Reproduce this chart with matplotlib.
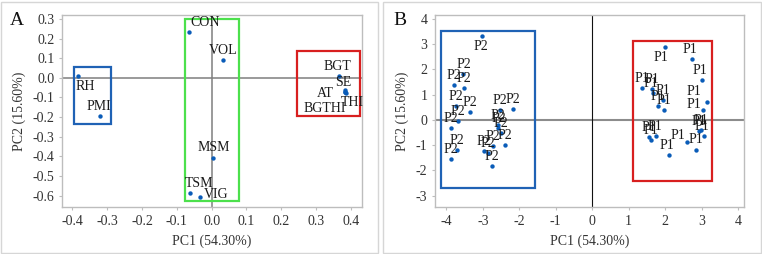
import matplotlib.pyplot as plt
from matplotlib.patches import Rectangle

plt.rcParams['font.family'] = 'serif'
plt.rcParams['font.serif'] = ['Liberation Serif', 'DejaVu Serif']
plt.rcParams['axes.unicode_minus'] = False

# Panel A: loadings
var_names = ['RH', 'PMI', 'CON', 'VOL', 'MSM', 'TSM', 'VIG',
             'BGT', 'SE', 'AT', 'THI', 'BGTHI']
var_pc1 = [-0.385, -0.321, -0.065, 0.033, 0.005, -0.062, -0.034,
           0.365, 0.384, 0.382, 0.386, 0.383]
var_pc2 = [0.010, -0.195, 0.231, 0.093, -0.407, -0.589, -0.606,
           0.010, -0.063, -0.070, -0.078, -0.074]

# Panel B: scores
p2_pc1 = [-3.01, -3.53, -3.79, -3.52, -3.74, -3.36, -3.67, -3.88, -3.70, -3.87,
          -2.53, -2.17, -2.58, -2.57, -2.49, -2.39, -2.73, -2.96, -2.87, -2.76]
p2_pc2 = [3.32, 1.82, 1.38, 1.25, 0.55, 0.32, -0.03, -0.33, -1.19, -1.55,
          0.37, 0.42, -0.21, -0.34, -0.53, -0.98, -1.05, -1.23, -1.32, -1.81]
p1_pc1 = [2.00, 2.73, 3.01, 1.36, 1.65, 1.66, 1.95, 1.80, 1.98, 3.16, 3.04,
          2.98, 2.93, 3.06, 2.86, 2.60, 2.11, 1.55, 1.60, 1.74]
p1_pc2 = [2.87, 2.40, 1.58, 1.25, 1.22, 1.08, 0.79, 0.53, 0.40, 0.71, 0.37,
          -0.40, -0.45, -0.65, -1.21, -0.86, -1.41, -0.68, -0.78, -0.65]

# label offsets (pixels) and alignment
var_off = [(-2, -4, 'left', 'top'), (-1, 3, 'center', 'bottom'),
           (1, 3, 'left', 'bottom'), (0, 3, 'center', 'bottom'),
           (0, 4, 'center', 'bottom'), (9, 3, 'center', 'bottom'),
           (4, 2, 'left', 'center'), (-1, 3, 'center', 'bottom'),
           (-2, 1, 'center', 'bottom'), (-11, -2, 'right', 'center'),
           (-5, -3, 'left', 'top'), (1, -10, 'right', 'top')]
p2_off = [(-1, -4, 'top')] + [(0, 3, 'bottom')] * 19
p1_off = [(-4, -4, 'top'), (-2, 3, 'bottom'), (-2, 3, 'bottom'), (0, 3, 'bottom'),
          (0, 3, 'bottom'), (-2, 3, 'bottom'), (0, 3, 'bottom'), (0, 3, 'bottom'),
          (0, 3, 'bottom'), (-13, 4, 'bottom'), (-9, -1, 'bottom'),
          (0, 3, 'bottom'), (0, 3, 'bottom'), (-2, 3, 'bottom'), (-1, 4, 'bottom'),
          (-9, 0, 'bottom'), (-2, 3, 'bottom'), (0, 3, 'bottom'), (0, 3, 'bottom'),
          (-1, 3, 'bottom')]

dot = '#0a5cb8'
blue, green, red = '#1f62b5', '#4ce04c', '#d81f1f'
txt = '#1a1a1a'

fig = plt.figure(figsize=(7.62, 2.54), dpi=100)
W, H = 762, 254

# outer panel borders
for x0, x1 in [(1, 378), (383, 761)]:
    fig.patches.append(Rectangle((x0 / W, 1 / H), (x1 - x0) / W, 251 / H,
                                 transform=fig.transFigure, fill=False,
                                 ec='#d6d6d6', lw=1.0))

axA = fig.add_axes([62 / W, 47 / H, 300 / W, 192 / H])
axB = fig.add_axes([435 / W, 47 / H, 308.5 / W, 192 / H])


def style(ax):
    for s in ax.spines.values():
        s.set_color('#bdbdbd')
        s.set_linewidth(1.0)
    ax.tick_params(colors='#bdbdbd', labelcolor='#333333', labelsize=10,
                   length=2.5, width=0.8, pad=3)
    ax.set_xlabel('PC1 (54.30%)', fontsize=10, color='#333333', labelpad=5)
    ax.set_ylabel('PC2 (15.60%)', fontsize=10, color='#333333', labelpad=5)


# ---- panel A
style(axA)
axA.axhline(0, color='#7f7f7f', lw=1.1, zorder=1)
axA.axvline(0, color='#7f7f7f', lw=1.1, zorder=1)
axA.scatter(var_pc1, var_pc2, s=10, color=dot, zorder=3, linewidths=0)
for n, x, y, (dx, dy, ha, va) in zip(var_names, var_pc1, var_pc2, var_off):
    axA.annotate(n, (x, y), xytext=(dx, dy), textcoords='offset pixels',
                 ha=ha, va=va, fontsize=10, color=txt, zorder=4)
axA.add_patch(Rectangle((-0.396, -0.233), 0.107, 0.289, fill=False, ec=blue, lw=1.6))
axA.add_patch(Rectangle((-0.076, -0.627), 0.155, 0.929, fill=False, ec=green, lw=1.6))
axA.add_patch(Rectangle((0.244, -0.197), 0.182, 0.335, fill=False, ec=red, lw=1.6))
axA.set_xlim(-0.43, 0.432)
axA.set_ylim(-0.658, 0.32)
axA.set_xticks([-0.4, -0.3, -0.2, -0.1, 0.0, 0.1, 0.2, 0.3, 0.4])
axA.set_yticks([0.3, 0.2, 0.1, 0.0, -0.1, -0.2, -0.3, -0.4, -0.5, -0.6])
axA.xaxis.set_major_formatter(lambda v, p: f'{v:.1f}')
axA.yaxis.set_major_formatter(lambda v, p: f'{v:.1f}')
fig.text(10 / W, 1 - 25 / H, 'A', fontsize=14, color='#111111')

# ---- panel B
style(axB)
axB.axhline(0, color='#8c8c8c', lw=1.5, zorder=1)
axB.axvline(0, color='#111111', lw=0.8, zorder=1)
axB.scatter(p2_pc1, p2_pc2, s=10, color=dot, zorder=3, linewidths=0)
axB.scatter(p1_pc1, p1_pc2, s=10, color=dot, zorder=3, linewidths=0)
for x, y, (dx, dy, va) in zip(p2_pc1, p2_pc2, p2_off):
    axB.annotate('P2', (x, y), xytext=(dx, dy), textcoords='offset pixels',
                 ha='center', va=va, fontsize=10, color=txt, zorder=4)
for x, y, (dx, dy, va) in zip(p1_pc1, p1_pc2, p1_off):
    axB.annotate('P1', (x, y), xytext=(dx, dy), textcoords='offset pixels',
                 ha='center', va=va, fontsize=10, color=txt, zorder=4)
axB.add_patch(Rectangle((-4.15, -2.70), 2.58, 6.22, fill=False, ec=blue, lw=1.6))
axB.add_patch(Rectangle((1.12, -2.41), 2.16, 5.55, fill=False, ec=red, lw=1.6))
axB.set_xlim(-4.31, 4.15)
axB.set_ylim(-3.45, 4.15)
axB.set_xticks(range(-4, 5))
axB.set_yticks(range(-3, 5))
fig.text(393 / W, 1 - 25 / H, 'B', fontsize=14, color='#111111')

fig.savefig('out.png', dpi=100)
